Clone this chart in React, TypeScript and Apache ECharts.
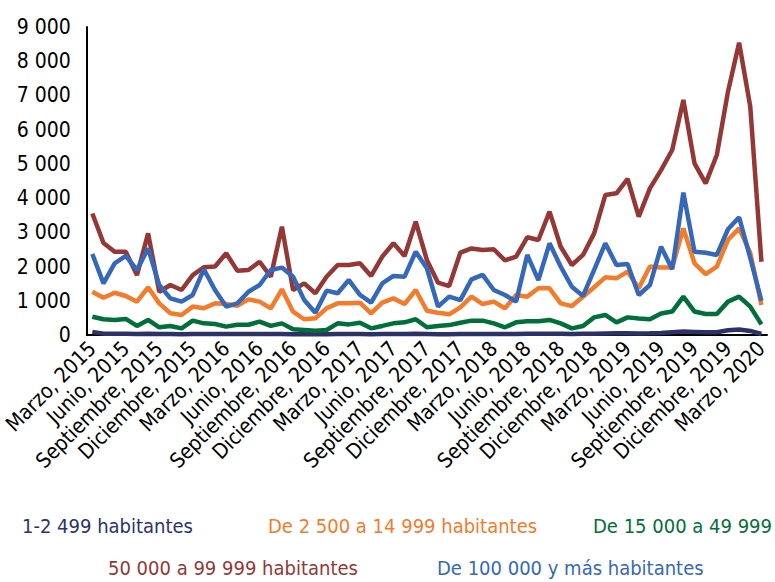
import React, { useEffect, useRef } from "react";
import * as echarts from "echarts";

const monthNames = ["Enero", "Febrero", "Marzo", "Abril", "Mayo", "Junio", "Julio", "Agosto", "Septiembre", "Octubre", "Noviembre", "Diciembre"];
const startMonth = 2; // Marzo
const startYear = 2015;
const monthCount = 61;
const categories: string[] = [];
for (let i = 0; i < monthCount; i++) {
  const m = (startMonth + i) % 12;
  const y = startYear + Math.floor((startMonth + i) / 12);
  categories.push(`${monthNames[m]}, ${y}`);
}

const yTicks = [0, 1000, 2000, 3000, 4000, 5000, 6000, 7000, 8000, 9000];

const seriesNames = [
  "1-2 499 habitantes",
  "De 2 500 a 14 999 habitantes",
  "De 15 000 a 49 999",
  "50 000 a 99 999 habitantes",
  "De 100 000 y más habitantes",
];

const navy = [90, 40, 35, 40, 30, 35, 30, 30, 25, 30, 30, 30, 30, 30, 30, 30, 30, 30, 25, 25, 25, 25, 30, 30, 30, 25, 30, 30, 30, 35, 30, 25, 25, 30, 30, 30, 30, 30, 30, 35, 35, 35, 35, 30, 35, 40, 45, 50, 50, 45, 50, 60, 80, 100, 90, 80, 80, 140, 160, 120, 30];
const orange = [1265, 1090, 1235, 1140, 975, 1395, 925, 635, 585, 830, 780, 925, 905, 855, 1040, 975, 780, 1335, 680, 460, 490, 780, 925, 925, 945, 635, 945, 1070, 905, 1315, 710, 650, 605, 810, 1120, 905, 975, 780, 1170, 1120, 1365, 1365, 925, 845, 1120, 1395, 1685, 1655, 1850, 1365, 2000, 1975, 1975, 3115, 2095, 1780, 2000, 2775, 3115, 2400, 875];
const green = [535, 460, 440, 470, 265, 440, 225, 265, 195, 420, 340, 320, 245, 300, 300, 390, 265, 340, 165, 145, 125, 145, 340, 310, 360, 195, 265, 340, 370, 460, 225, 265, 290, 360, 420, 420, 340, 225, 370, 400, 400, 440, 340, 195, 265, 515, 585, 370, 515, 485, 460, 630, 685, 1120, 685, 615, 615, 975, 1120, 830, 310];
const red = [3550, 2690, 2430, 2430, 1750, 2970, 1265, 1460, 1315, 1750, 1980, 2000, 2390, 1880, 1900, 2140, 1705, 3165, 1315, 1510, 1220, 1700, 2045, 2045, 2095, 1725, 2290, 2680, 2310, 3310, 2190, 1530, 1430, 2405, 2530, 2485, 2505, 2180, 2290, 2855, 2775, 3605, 2580, 2045, 2340, 2970, 4090, 4140, 4560, 3460, 4285, 4820, 5405, 6870, 5015, 4430, 5260, 7110, 8540, 6670, 2140];
const blue = [2365, 1510, 2095, 2310, 1900, 2530, 1460, 1070, 975, 1170, 1920, 1315, 830, 925, 1265, 1460, 1900, 1970, 1705, 1020, 650, 1295, 1220, 1605, 1170, 945, 1510, 1725, 1705, 2435, 1950, 830, 1120, 1020, 1625, 1755, 1315, 1170, 975, 2340, 1605, 2680, 2000, 1410, 1140, 1900, 2680, 2045, 2075, 1170, 1460, 2580, 1920, 4160, 2435, 2405, 2340, 3090, 3440, 2250, 1000];

const seriesData = [navy, orange, green, red, blue];
const colors = ["#2C3268", "#F47B2A", "#006F3A", "#953735", "#3568B9"];

const legendPos = [
  { left: 12, top: 511 },
  { left: 258, top: 511 },
  { left: 583, top: 511 },
  { left: 98, top: 553 },
  { left: 427, top: 553 },
];

const FONT = "'DejaVu Sans Condensed', 'Liberation Sans Narrow', sans-serif";

function fmt(v: number): string {
  if (v === 0) return "0";
  const th = Math.floor(v / 1000);
  const rest = String(v % 1000).padStart(3, "0");
  return `${th} ${rest}`;
}

export default function App() {
  const ref = useRef<HTMLDivElement>(null);
  useEffect(() => {
    if (!ref.current) return;
    const chart = echarts.init(ref.current, null, { renderer: "svg" });
    chart.setOption({
      animation: false,
      backgroundColor: "#ffffff",
      grid: { left: 79, right: 8, top: 27, bottom: 247, containLabel: false },
      legend: seriesNames.map((name, i) => ({
        data: [name],
        left: legendPos[i].left,
        top: legendPos[i].top,
        itemWidth: 0,
        itemHeight: 0,
        icon: "rect",
        itemStyle: { opacity: 0 },
        lineStyle: { opacity: 0 },
        selectedMode: false,
        textStyle: { color: colors[i], fontSize: 20, fontFamily: FONT },
      })),
      xAxis: {
        type: "category",
        data: categories,
        boundaryGap: true,
        axisLine: { show: true, lineStyle: { color: "#000", width: 2 } },
        axisTick: { show: false },
        axisLabel: {
          interval: 2,
          rotate: 45,
          color: "#000",
          fontSize: 21,
          fontFamily: FONT,
          margin: 10,
        },
        splitLine: { show: false },
      },
      yAxis: {
        type: "value",
        min: yTicks[0],
        max: yTicks[yTicks.length - 1],
        interval: 1000,
        axisLine: { show: true, lineStyle: { color: "#000", width: 2 } },
        axisTick: { show: false },
        splitLine: { show: false },
        axisLabel: {
          color: "#000",
          fontSize: 21,
          fontFamily: FONT,
          margin: 16,
          formatter: (v: number) => fmt(v),
        },
      },
      series: seriesNames.map((name, i) => ({
        name,
        type: "line",
        data: seriesData[i],
        showSymbol: false,
        symbol: "none",
        lineStyle: { color: colors[i], width: 4.5 },
        itemStyle: { color: colors[i] },
      })),
    });
    return () => chart.dispose();
  }, []);
  return <div ref={ref} style={{ width: 775, height: 582, position: "absolute", left: 0, top: 0 }} />;
}
